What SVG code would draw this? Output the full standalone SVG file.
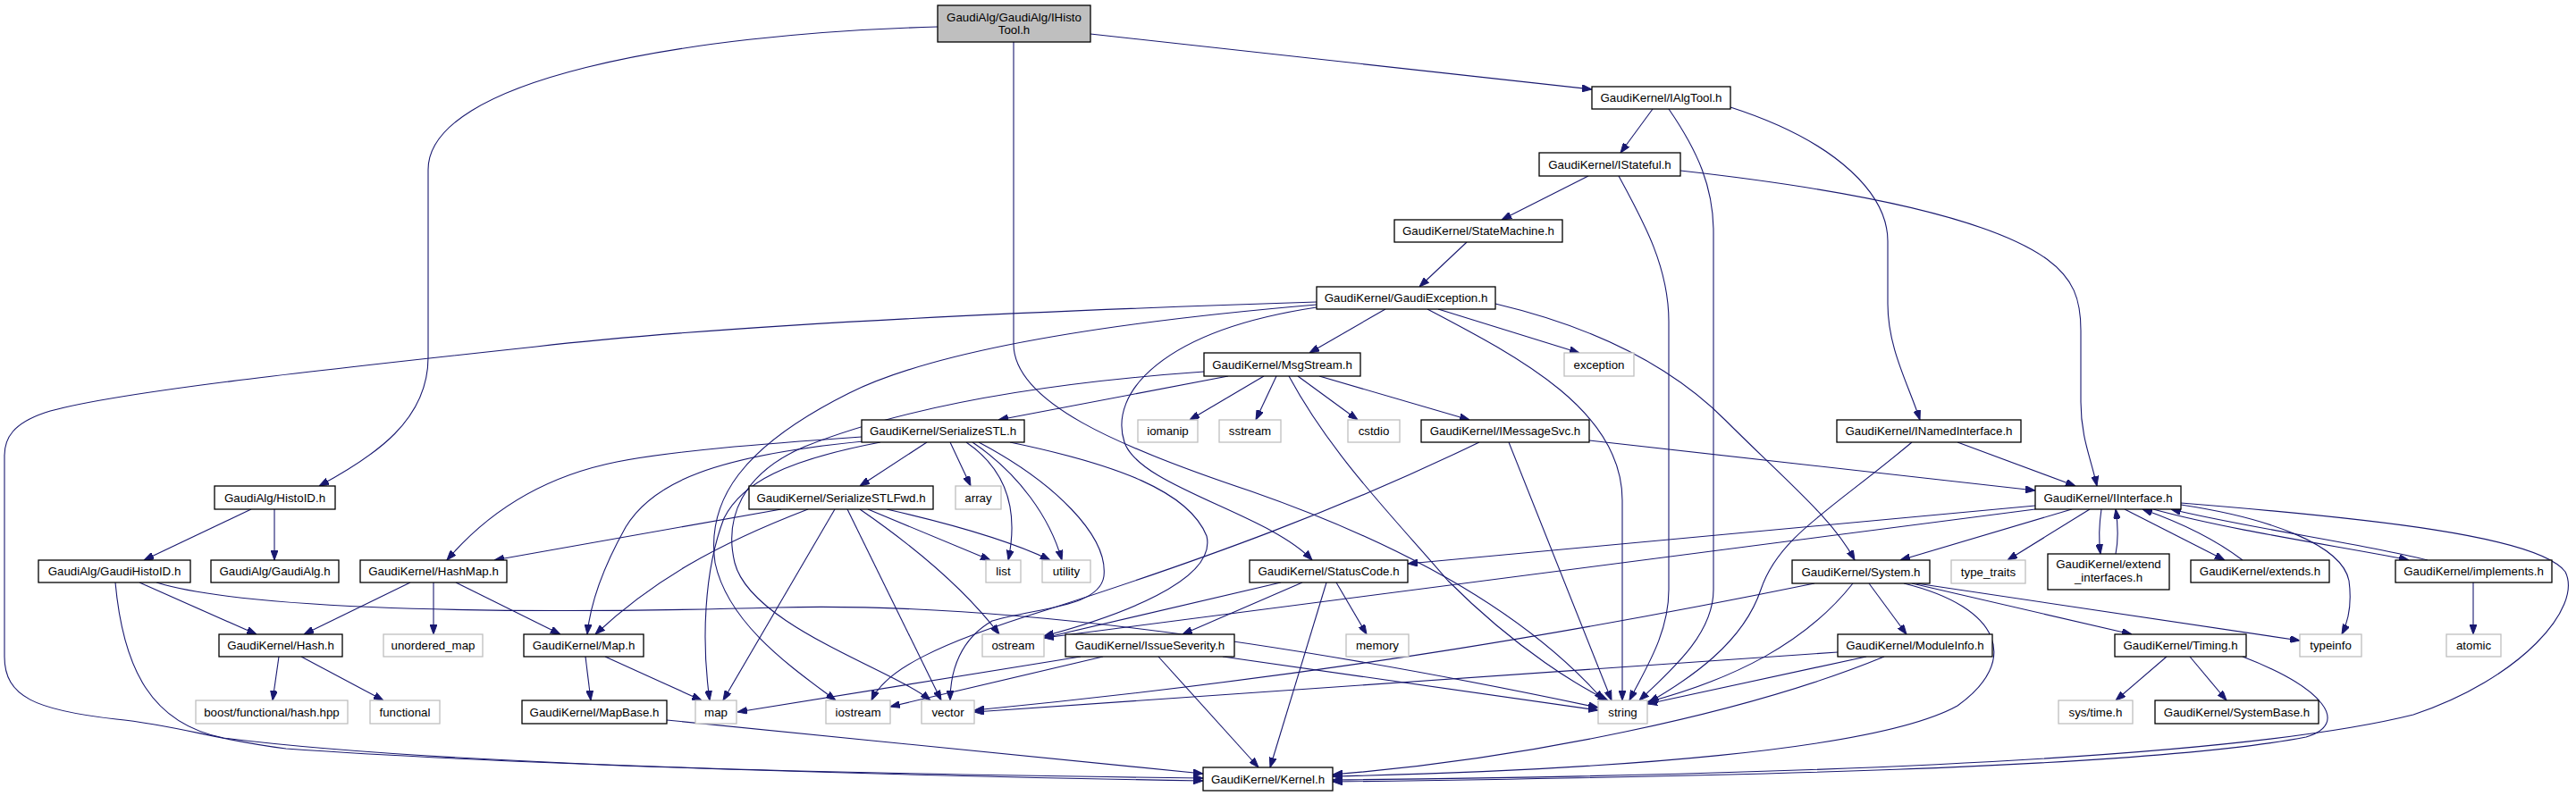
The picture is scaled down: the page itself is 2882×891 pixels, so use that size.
<svg xmlns="http://www.w3.org/2000/svg" width="2882" height="891" viewBox="0 0 2882 891">
<style>
.n rect{fill:#fff;stroke:#000;stroke-width:1.3}
.g rect{fill:#fff;stroke:#bfbfbf;stroke-width:1.3}
.r rect{fill:#bfbfbf;stroke:#000;stroke-width:1.3}
text{font-family:"Liberation Sans",Arial,sans-serif;font-size:13.3px;text-anchor:middle;fill:#000}
#edges path{fill:none;stroke:#191970;stroke-width:1.1;marker-end:url(#a)}
</style>
<defs>
<marker id="a" viewBox="0 0 11 8" refX="11" refY="4" markerWidth="11" markerHeight="8" markerUnits="userSpaceOnUse" orient="auto"><path d="M0,0 L11,4 L0,8 z" fill="#191970" stroke="#191970" stroke-width="1"/></marker>
</defs>
<rect width="2882" height="891" fill="#fff"/>
<g id="edges">
<path d="M1049,30 C760,38 479,90 479,190 L479,400 C479,470 420,510 357,544"/>
<path d="M1134,47 L1134,385 C1134,450 1250,500 1400,550 C1600,620 1720,700 1794,784"/>
<path d="M1220,38 L1781,100"/>
<path d="M281,570 L161,627"/>
<path d="M307,570 L307,627"/>
<path d="M156,652 L287,710"/>
<path d="M129,652 C138,750 170,810 250,826 C500,858 1000,867 1346,871"/>
<path d="M175,652 C260,678 500,690 870,680 C1100,674 1400,710 1788,792"/>
<path d="M459,652 L340,710"/>
<path d="M485,652 L485,710"/>
<path d="M510,652 L627,710"/>
<path d="M312,735 L305,784"/>
<path d="M337,735 L429,784"/>
<path d="M655,735 L661,784"/>
<path d="M677,735 L785,784"/>
<path d="M746,806 L1346,866"/>
<path d="M1849,122 L1813,171"/>
<path d="M1867,122 C1900,170 1917,210 1917,260 L1917,660 C1917,710 1870,750 1834,784"/>
<path d="M1936,120 C2060,160 2112,220 2112,270 L2112,340 C2112,390 2135,430 2148,470"/>
<path d="M1777,197 L1680,246"/>
<path d="M1811,197 C1840,250 1867,300 1867,360 L1867,660 C1867,710 1840,750 1823,784"/>
<path d="M1880,191 C2050,210 2220,240 2290,290 C2320,312 2328,335 2328,370 L2328,450 C2328,490 2340,515 2346,544"/>
<path d="M1641,271 L1588,321"/>
<path d="M1473,338 C1100,350 800,365 600,388 C350,415 120,440 50,462 C15,474 5,490 5,510 L5,735 C5,780 40,795 130,805 C200,812 240,828 320,838 C600,858 1100,870 1346,874"/>
<path d="M1550,346 L1465,395"/>
<path d="M1609,346 L1767,395"/>
<path d="M1597,346 C1700,400 1815,460 1815,560 L1815,784"/>
<path d="M1673,340 C1800,370 1880,420 1930,470 C2000,540 2050,580 2075,627"/>
<path d="M1473,344 C1300,370 1240,440 1258,495 C1275,545 1420,575 1468,627"/>
<path d="M1473,341 C1250,360 1050,390 950,440 C830,500 790,560 800,630 C815,700 890,750 935,784"/>
<path d="M1347,416 C1150,430 1000,460 900,500 C830,530 810,580 822,630 C840,700 1000,750 1041,784"/>
<path d="M1374,421 L1117,470"/>
<path d="M1414,421 L1331,470"/>
<path d="M1428,421 L1405,470"/>
<path d="M1442,421 C1490,510 1560,580 1620,650 C1700,730 1770,770 1799,784"/>
<path d="M1452,421 L1519,470"/>
<path d="M1476,421 L1644,470"/>
<path d="M964,489 C850,497 750,505 690,517 C600,535 540,580 500,627"/>
<path d="M966,494 C800,510 730,540 700,590 C672,640 660,680 657,710"/>
<path d="M985,495 C880,515 830,540 810,580 C787,640 785,720 794,784"/>
<path d="M1037,495 L962,544"/>
<path d="M1063,495 L1086,544"/>
<path d="M1081,495 C1125,525 1140,570 1128,627"/>
<path d="M1088,495 C1140,530 1175,580 1188,627"/>
<path d="M1095,495 C1180,540 1240,600 1235,645 C1230,680 1160,680 1110,695 C1075,715 1063,750 1063,784"/>
<path d="M1130,495 C1250,520 1330,550 1350,600 C1362,650 1250,690 1168,712"/>
<path d="M874,570 L553,627"/>
<path d="M904,570 C800,610 730,650 666,710"/>
<path d="M934,570 L809,784"/>
<path d="M948,570 L1053,784"/>
<path d="M962,570 C1020,610 1080,660 1118,710"/>
<path d="M971,570 L1108,627"/>
<path d="M992,570 C1080,590 1140,610 1175,627"/>
<path d="M1778,493 L2277,549"/>
<path d="M1655,495 C1500,570 1350,625 1170,683 C1050,720 990,750 975,784"/>
<path d="M1688,495 L1803,784"/>
<path d="M2190,495 L2322,544"/>
<path d="M2139,495 C2050,570 1990,600 1970,660 C1950,720 1890,760 1845,786"/>
<path d="M2277,566 L1575,631"/>
<path d="M2277,570 L1168,714"/>
<path d="M2318,570 L2126,627"/>
<path d="M2338,570 L2246,627"/>
<path d="M2351,570 C2348,590 2348,605 2350,620"/>
<path d="M2367,620 C2370,605 2370,590 2367,570"/>
<path d="M2377,570 L2489,627"/>
<path d="M2509,627 C2480,605 2440,585 2397,570"/>
<path d="M2409,570 C2500,595 2640,615 2695,627"/>
<path d="M2716,627 C2650,610 2510,590 2429,570"/>
<path d="M2440,565 C2540,580 2620,610 2628,650 C2632,680 2625,700 2620,710"/>
<path d="M2440,563 C2650,580 2840,600 2870,640 C2890,680 2820,760 2700,800 C2500,850 2000,868 1491,873"/>
<path d="M2767,652 L2767,710"/>
<path d="M2030,653 C1800,700 1500,755 1090,795"/>
<path d="M2073,653 C2020,720 1940,760 1843,786"/>
<path d="M2091,653 L2133,710"/>
<path d="M2130,653 C2240,680 2260,740 2190,790 C2100,840 1800,862 1491,869"/>
<path d="M2139,653 L2385,710"/>
<path d="M2144,653 L2573,717"/>
<path d="M2056,730 L1090,797"/>
<path d="M2088,735 L1843,788"/>
<path d="M2108,735 C1950,800 1700,850 1491,867"/>
<path d="M2424,735 L2367,784"/>
<path d="M2450,735 L2491,784"/>
<path d="M2509,735 C2600,770 2630,810 2580,825 C2400,860 1900,870 1491,875"/>
<path d="M1433,652 L1168,714"/>
<path d="M1457,652 L1323,710"/>
<path d="M1484,652 L1421,859"/>
<path d="M1495,652 L1529,710"/>
<path d="M1209,735 L825,797"/>
<path d="M1234,735 L996,791"/>
<path d="M1368,735 L1788,795"/>
<path d="M1296,735 L1408,859"/>
</g>
<g id="n0" class="r"><rect x="1049" y="6" width="171" height="41"/><text x="1134.5" y="23.5">GaudiAlg/GaudiAlg/IHisto</text><text x="1134.5" y="37.5">Tool.h</text></g>
<g id="n1" class="n"><rect x="1781" y="97" width="155" height="25"/><text x="1858.5" y="114">GaudiKernel/IAlgTool.h</text></g>
<g id="n2" class="n"><rect x="1722" y="171" width="158" height="26"/><text x="1801" y="188.5">GaudiKernel/IStateful.h</text></g>
<g id="n3" class="n"><rect x="1560" y="246" width="188" height="25"/><text x="1654" y="263">GaudiKernel/StateMachine.h</text></g>
<g id="n4" class="n"><rect x="1473" y="321" width="200" height="25"/><text x="1573" y="338">GaudiKernel/GaudiException.h</text></g>
<g id="n5" class="n"><rect x="1347" y="395" width="175" height="26"/><text x="1434.5" y="412.5">GaudiKernel/MsgStream.h</text></g>
<g id="n6" class="g"><rect x="1750" y="395" width="78" height="26"/><text x="1789" y="412.5">exception</text></g>
<g id="n7" class="n"><rect x="964" y="470" width="182" height="25"/><text x="1055" y="487">GaudiKernel/SerializeSTL.h</text></g>
<g id="n8" class="g"><rect x="1273" y="470" width="67" height="25"/><text x="1306.5" y="487">iomanip</text></g>
<g id="n9" class="g"><rect x="1364" y="470" width="69" height="25"/><text x="1398.5" y="487">sstream</text></g>
<g id="n10" class="g"><rect x="1508" y="470" width="58" height="25"/><text x="1537" y="487">cstdio</text></g>
<g id="n11" class="n"><rect x="1590" y="470" width="188" height="25"/><text x="1684" y="487">GaudiKernel/IMessageSvc.h</text></g>
<g id="n12" class="n"><rect x="2055" y="470" width="206" height="25"/><text x="2158" y="487">GaudiKernel/INamedInterface.h</text></g>
<g id="n13" class="n"><rect x="240" y="544" width="135" height="26"/><text x="307.5" y="561.5">GaudiAlg/HistoID.h</text></g>
<g id="n14" class="n"><rect x="838" y="544" width="206" height="26"/><text x="941" y="561.5">GaudiKernel/SerializeSTLFwd.h</text></g>
<g id="n15" class="g"><rect x="1069" y="544" width="51" height="26"/><text x="1094.5" y="561.5">array</text></g>
<g id="n16" class="n"><rect x="2277" y="544" width="163" height="26"/><text x="2358.5" y="561.5">GaudiKernel/IInterface.h</text></g>
<g id="n17" class="n"><rect x="43" y="627" width="170" height="25"/><text x="128" y="644">GaudiAlg/GaudiHistoID.h</text></g>
<g id="n18" class="n"><rect x="236" y="627" width="143" height="25"/><text x="307.5" y="644">GaudiAlg/GaudiAlg.h</text></g>
<g id="n19" class="n"><rect x="403" y="627" width="164" height="25"/><text x="485" y="644">GaudiKernel/HashMap.h</text></g>
<g id="n20" class="g"><rect x="1103" y="627" width="39" height="25"/><text x="1122.5" y="644">list</text></g>
<g id="n21" class="g"><rect x="1166" y="627" width="54" height="25"/><text x="1193" y="644">utility</text></g>
<g id="n22" class="n"><rect x="1398" y="627" width="177" height="25"/><text x="1486.5" y="644">GaudiKernel/StatusCode.h</text></g>
<g id="n23" class="n"><rect x="2005" y="627" width="154" height="26"/><text x="2082" y="644.5">GaudiKernel/System.h</text></g>
<g id="n24" class="g"><rect x="2183" y="627" width="83" height="26"/><text x="2224.5" y="644.5">type_traits</text></g>
<g id="n25" class="n"><rect x="2291" y="620" width="136" height="40"/><text x="2359" y="636">GaudiKernel/extend</text><text x="2359" y="651">_interfaces.h</text></g>
<g id="n26" class="n"><rect x="2451" y="627" width="155" height="25"/><text x="2528.5" y="644">GaudiKernel/extends.h</text></g>
<g id="n27" class="n"><rect x="2680" y="627" width="175" height="25"/><text x="2767.5" y="644">GaudiKernel/implements.h</text></g>
<g id="n28" class="n"><rect x="245" y="710" width="138" height="25"/><text x="314" y="727">GaudiKernel/Hash.h</text></g>
<g id="n29" class="g"><rect x="429" y="710" width="111" height="25"/><text x="484.5" y="727">unordered_map</text></g>
<g id="n30" class="n"><rect x="586" y="710" width="134" height="25"/><text x="653" y="727">GaudiKernel/Map.h</text></g>
<g id="n31" class="g"><rect x="1099" y="710" width="69" height="25"/><text x="1133.5" y="727">ostream</text></g>
<g id="n32" class="n"><rect x="1192" y="710" width="189" height="25"/><text x="1286.5" y="727">GaudiKernel/IssueSeverity.h</text></g>
<g id="n33" class="g"><rect x="1506" y="710" width="70" height="25"/><text x="1541" y="727">memory</text></g>
<g id="n34" class="n"><rect x="2056" y="710" width="173" height="25"/><text x="2142.5" y="727">GaudiKernel/ModuleInfo.h</text></g>
<g id="n35" class="n"><rect x="2366" y="710" width="147" height="25"/><text x="2439.5" y="727">GaudiKernel/Timing.h</text></g>
<g id="n36" class="g"><rect x="2573" y="710" width="69" height="25"/><text x="2607.5" y="727">typeinfo</text></g>
<g id="n37" class="g"><rect x="2737" y="710" width="61" height="25"/><text x="2767.5" y="727">atomic</text></g>
<g id="n38" class="g"><rect x="219" y="784" width="170" height="26"/><text x="304" y="801.5">boost/functional/hash.hpp</text></g>
<g id="n39" class="g"><rect x="414" y="784" width="78" height="26"/><text x="453" y="801.5">functional</text></g>
<g id="n40" class="n"><rect x="584" y="784" width="162" height="26"/><text x="665" y="801.5">GaudiKernel/MapBase.h</text></g>
<g id="n41" class="g"><rect x="778" y="784" width="46" height="26"/><text x="801" y="801.5">map</text></g>
<g id="n42" class="g"><rect x="924" y="784" width="72" height="26"/><text x="960" y="801.5">iostream</text></g>
<g id="n43" class="g"><rect x="1031" y="784" width="59" height="26"/><text x="1060.5" y="801.5">vector</text></g>
<g id="n44" class="g"><rect x="1788" y="784" width="55" height="26"/><text x="1815.5" y="801.5">string</text></g>
<g id="n45" class="g"><rect x="2303" y="784" width="83" height="26"/><text x="2344.5" y="801.5">sys/time.h</text></g>
<g id="n46" class="n"><rect x="2411" y="784" width="183" height="26"/><text x="2502.5" y="801.5">GaudiKernel/SystemBase.h</text></g>
<g id="n47" class="n"><rect x="1346" y="859" width="145" height="26"/><text x="1418.5" y="876.5">GaudiKernel/Kernel.h</text></g>
</svg>
